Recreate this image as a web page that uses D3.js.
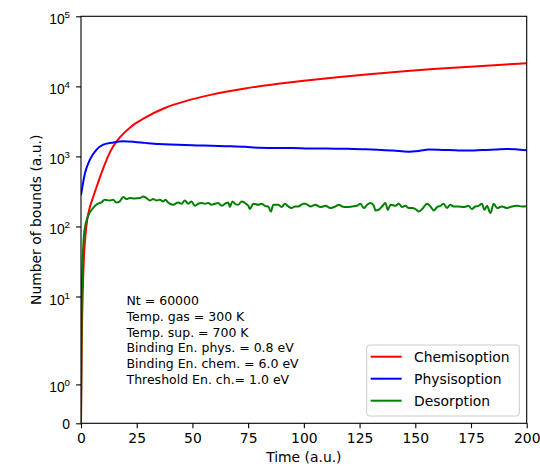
<!DOCTYPE html>
<html>
<head>
<meta charset="utf-8">
<script src="https://cdn.jsdelivr.net/npm/d3@7"></script>
<style>
  body { margin: 0; background: #fff; }
  svg { font-family: "DejaVu Sans", sans-serif; }
</style>
</head>
<body>
<svg id="chart" width="540" height="467"></svg>
<script>
// values
var redTime  = [0, 0.4, 0.8, 1.3, 2, 2.8, 4, 5.5, 7.6, 10, 13.6, 16.6, 22.6, 28.6, 37.6, 46.6, 58.6, 73.6, 88.5, 100, 115, 128, 145, 158, 180, 200];
var redCount = [0, 3, 12, 35, 75, 125, 190, 265, 417, 680, 1250, 1730, 2680, 3540, 4910, 6110, 7620, 9310, 10860, 12020, 13490, 14750, 16400, 17620, 19590, 21380];

var blueTime  = [0, 1.8, 4, 7, 10, 14.5, 19, 24, 28.6, 35, 43.6, 50, 58.6, 65, 73.6, 80, 88.5, 95, 102, 110, 118, 128, 133, 140, 147, 152, 156, 165, 173, 180, 186, 191, 195, 200];
var blueCount = [280, 580, 900, 1250, 1470, 1585, 1640, 1610, 1560, 1500, 1470, 1440, 1420, 1400, 1370, 1330, 1320, 1320, 1300, 1300, 1285, 1260, 1240, 1210, 1165, 1200, 1250, 1230, 1210, 1230, 1250, 1280, 1270, 1220];

var greenTime = [0, 0.3, 0.7, 1.1, 1.6, 3.1, 5.4, 7.6, 9.1, 10.6, 12.9, 14.4, 15.9, 17.4, 18.9, 20.4, 21.9, 24.1, 26.4, 27.9,
  29.4, 30.9, 32.4, 33.9, 35.4, 36.9, 37.9, 39.1, 41.3, 43.6, 45.1, 46.6, 48.1, 49.6, 51.1, 52.6, 54.1, 55.6, 57.1, 58.6,
  60.1, 61.6, 63.1, 64.6, 66.1, 66.8, 67.9, 69.1, 70.6, 72.1, 73.6, 75.1, 75.8, 77.3, 79.6, 81.0, 82.5, 84.0, 85.2, 86.3,
  88.5, 90.0, 91.5, 93.0, 94.5, 96.0, 97.5, 99.8, 100.7, 102.9, 105.2, 107.4, 109.7, 111.9, 114.2, 115.7, 117.2, 119.4, 121.7, 123.9,
  125.4, 126.9, 128.4, 129.9, 131.4, 132.1, 133.6, 135.1, 136.6, 137.7, 138.9, 141.1, 142.6, 144.1, 145.6, 147.1, 148.6, 150.1, 151.6, 153.1,
  155.3, 156.8, 158.3, 159.8, 161.3, 162.7, 164.2, 165.7, 167.2, 169.4, 171.7, 173.9, 175.4, 176.9, 178.4, 179.9, 181.0, 182.2, 183.7, 185.2,
  186.7, 188.9, 191.2, 193.4, 195.7, 197.9, 200];
var greenCount = [0, 8, 30, 60, 90, 139, 183, 211, 220, 240, 235, 240, 220, 228, 263, 246, 254, 251, 254, 268,
  254, 235, 246, 235, 240, 228, 240, 220, 204, 220, 211, 235, 211, 228, 197, 211, 216, 211, 216, 204,
  211, 216, 197, 211, 220, 189, 228, 211, 204, 228, 216, 197, 177, 211, 204, 211, 197, 193, 163, 204,
  204, 189, 211, 193, 183, 193, 193, 211, 211, 193, 204, 189, 197, 183, 193, 204, 193, 189, 193, 197,
  211, 183, 204, 216, 197, 169, 173, 193, 216, 173, 204, 197, 211, 189, 197, 183, 183, 177, 163, 177,
  211, 193, 169, 189, 197, 211, 183, 204, 193, 193, 189, 197, 177, 193, 197, 211, 173, 197, 155, 211,
  183, 193, 183, 193, 197, 193, 195];

var xTicks = [0, 25, 50, 75, 100, 125, 150, 175, 200];
var yTicks = [0, 1, 10, 100, 1000, 10000, 100000];
var seriesNames = ["Chemisoption", "Physisoption", "Desorption"];
var seriesColors = ["#ff0000", "#0000ff", "#008000"];
var infoLines = [
  "Nt = 60000",
  "Temp. gas = 300 K",
  "Temp. sup. = 700 K",
  "Binding En. phys. = 0.8 eV",
  "Binding En. chem. = 6.0 eV",
  "Threshold En. ch.= 1.0 eV"
];

var plotLeft = 81, plotRight = 526.7, plotTop = 16.3, plotBottom = 423.3;

// symlog like matplotlib: linthresh 2, linscale 1
var linthresh = 2, linscaleAdj = 1 / (1 - 1 / 10);
function symlog(v) {
  var a = Math.abs(v);
  if (a <= linthresh) return v * linscaleAdj;
  return Math.sign(v) * linthresh * (linscaleAdj + Math.log10(a / linthresh));
}

var x = d3.scaleLinear().domain([0, 200]).range([plotLeft, plotRight]);
var yLin = d3.scaleLinear().domain([0, symlog(1e5)]).range([plotBottom, plotTop]);
var y = function(v) { return yLin(symlog(v)); };

var svg = d3.select("#chart");

svg.append("clipPath").attr("id", "clip")
  .append("rect").attr("x", plotLeft).attr("y", plotTop)
  .attr("width", plotRight - plotLeft).attr("height", plotBottom - plotTop);

var line = d3.line()
  .x(function(d) { return x(d[0]); })
  .y(function(d) { return y(d[1]); })
  .curve(d3.curveMonotoneX);

var series = [
  d3.zip(redTime, redCount),
  d3.zip(blueTime, blueCount),
  d3.zip(greenTime, greenCount)
];

svg.append("g").attr("clip-path", "url(#clip)")
  .selectAll("path")
  .data(series)
  .join("path")
  .attr("fill", "none")
  .attr("stroke", function(d, i) { return seriesColors[i]; })
  .attr("stroke-width", 2)
  .attr("stroke-linejoin", "round")
  .attr("d", line);

// axes
var xAxis = svg.append("g")
  .attr("transform", "translate(0," + plotBottom + ")")
  .call(d3.axisBottom(x).tickValues(xTicks).tickSize(4.9).tickPadding(4.5));

var yAxis = svg.append("g")
  .attr("transform", "translate(" + plotLeft + ",0)")
  .call(d3.axisLeft(yLin).tickValues(yTicks.map(symlog)).tickSize(4.9).tickFormat(""));

[xAxis, yAxis].forEach(function(g) {
  g.select(".domain").remove();
  g.selectAll(".tick line").attr("stroke", "#000").attr("stroke-width", 1.1);
  g.selectAll("text").attr("font-family", "DejaVu Sans").attr("font-size", 13.9).attr("fill", "#000");
});

// y tick labels with superscripts
yAxis.selectAll(".tick").each(function(d, i) {
  var v = yTicks[i];
  var t = d3.select(this).append("text")
    .attr("x", -11).attr("text-anchor", "end")
    .attr("font-size", 13.9).attr("fill", "#000");
  if (v === 0) {
    t.attr("y", 5).text("0");
  } else {
    t.attr("y", 7.5);
    t.append("tspan").text("10");
    t.append("tspan").attr("font-size", 9.7).attr("dy", -6)
      .text(String(Math.round(Math.log10(v))));
  }
});

// frame
svg.append("rect")
  .attr("x", plotLeft).attr("y", plotTop)
  .attr("width", plotRight - plotLeft).attr("height", plotBottom - plotTop)
  .attr("fill", "none").attr("stroke", "#000").attr("stroke-width", 1.1);

// axis labels
svg.append("text")
  .attr("x", (plotLeft + plotRight) / 2).attr("y", 462)
  .attr("text-anchor", "middle").attr("font-size", 13.9)
  .text("Time (a.u.)");

svg.append("text")
  .attr("transform", "translate(40.5," + ((plotTop + plotBottom) / 2) + ") rotate(-90)")
  .attr("text-anchor", "middle").attr("font-size", 13.9)
  .text("Number of bounds (a.u.)");

// info text
svg.append("g").selectAll("text")
  .data(infoLines)
  .join("text")
  .attr("x", 126.5)
  .attr("y", function(d, i) { return 305 + i * 15.8; })
  .attr("font-size", 12.5)
  .text(function(d) { return d; });

// legend
var legend = svg.append("g");
legend.append("rect")
  .attr("x", 366.7).attr("y", 345).attr("width", 152.6).attr("height", 71)
  .attr("rx", 3).attr("fill", "#fff").attr("fill-opacity", 0.8)
  .attr("stroke", "#cccccc").attr("stroke-width", 1);

var item = legend.selectAll("g.item")
  .data(seriesNames)
  .join("g")
  .attr("class", "item")
  .attr("transform", function(d, i) { return "translate(0," + (356.7 + i * 22) + ")"; });

item.append("line")
  .attr("x1", 370.7).attr("x2", 401.7)
  .attr("stroke", function(d, i) { return seriesColors[i]; })
  .attr("stroke-width", 2);

item.append("text")
  .attr("x", 414).attr("y", 5)
  .attr("font-size", 13.9)
  .text(function(d) { return d; });
</script>
</body>
</html>
